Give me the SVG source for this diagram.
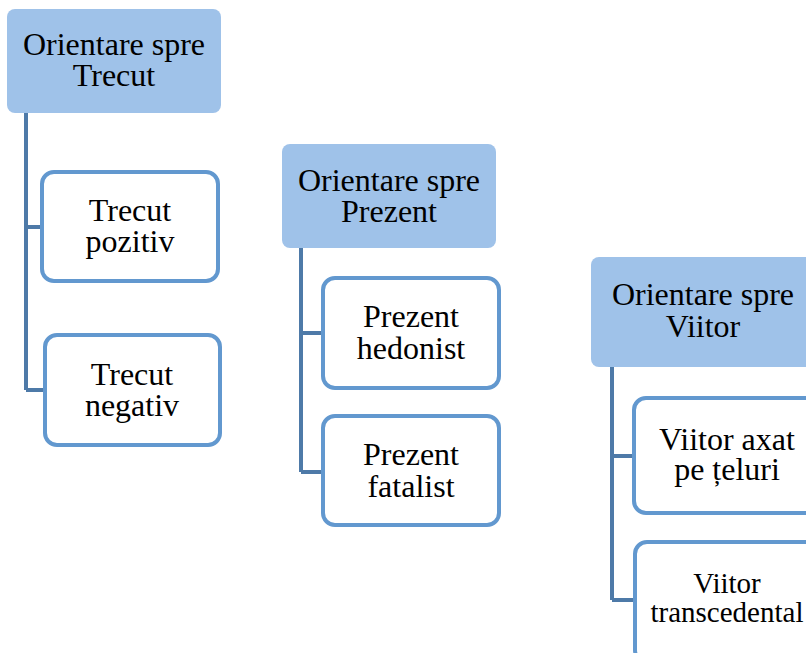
<svg xmlns="http://www.w3.org/2000/svg" width="806" height="653" viewBox="0 0 806 653">
<style>
.hdr{fill:#9fc2e9;stroke:none}
.child{fill:#ffffff;stroke:#6298cf;stroke-width:4}
.conn{fill:none;stroke:#4e7aa8;stroke-width:4}
text{font-family:"Liberation Serif","Times New Roman",serif;font-size:32px;fill:#000;text-anchor:middle}
.small{font-size:29px}
</style>
<rect width="806" height="653" fill="#ffffff"/>
<g id="connectors">
<path class="conn" d="M26,113 V390 M26,227 H42 M26,390 H45"/>
<path class="conn" d="M301,248 V472 M301,333 H323 M301,472 H323"/>
<path class="conn" d="M612,367 V600 M612,456 H634 M612,600 H635"/>
</g>
<g id="trecut">
<rect class="hdr" x="7" y="9" width="214" height="104" rx="8"/>
<text x="114" y="55">Orientare spre</text>
<text x="114" y="86">Trecut</text>
</g>
<g id="trecut-pozitiv">
<rect class="child" x="42" y="172" width="176" height="109" rx="12"/>
<text x="130" y="221">Trecut</text>
<text x="130" y="252">pozitiv</text>
</g>
<g id="trecut-negativ">
<rect class="child" x="45" y="335" width="175" height="110" rx="12"/>
<text x="132" y="385">Trecut</text>
<text x="132" y="416">negativ</text>
</g>
<g id="prezent">
<rect class="hdr" x="282" y="144" width="214" height="104" rx="8"/>
<text x="389" y="191">Orientare spre</text>
<text x="389" y="222">Prezent</text>
</g>
<g id="prezent-hedonist">
<rect class="child" x="323" y="278" width="176" height="110" rx="12"/>
<text x="411" y="327">Prezent</text>
<text x="411" y="359">hedonist</text>
</g>
<g id="prezent-fatalist">
<rect class="child" x="323" y="416" width="176" height="109" rx="12"/>
<text x="411" y="465">Prezent</text>
<text x="411" y="497">fatalist</text>
</g>
<g id="viitor">
<rect class="hdr" x="591" y="257" width="224" height="110" rx="8"/>
<text x="703" y="305">Orientare spre</text>
<text x="703" y="337">Viitor</text>
</g>
<g id="viitor-axat">
<rect class="child" x="634" y="398" width="190" height="115" rx="12"/>
<text x="727" y="450">Viitor axat</text>
<text x="727" y="480">pe țeluri</text>
</g>
<g id="viitor-transcedental">
<rect class="child" x="635" y="542" width="190" height="120" rx="12"/>
<text class="small" x="727" y="593">Viitor</text>
<text class="small" x="727" y="622">transcedental</text>
</g>
</svg>
